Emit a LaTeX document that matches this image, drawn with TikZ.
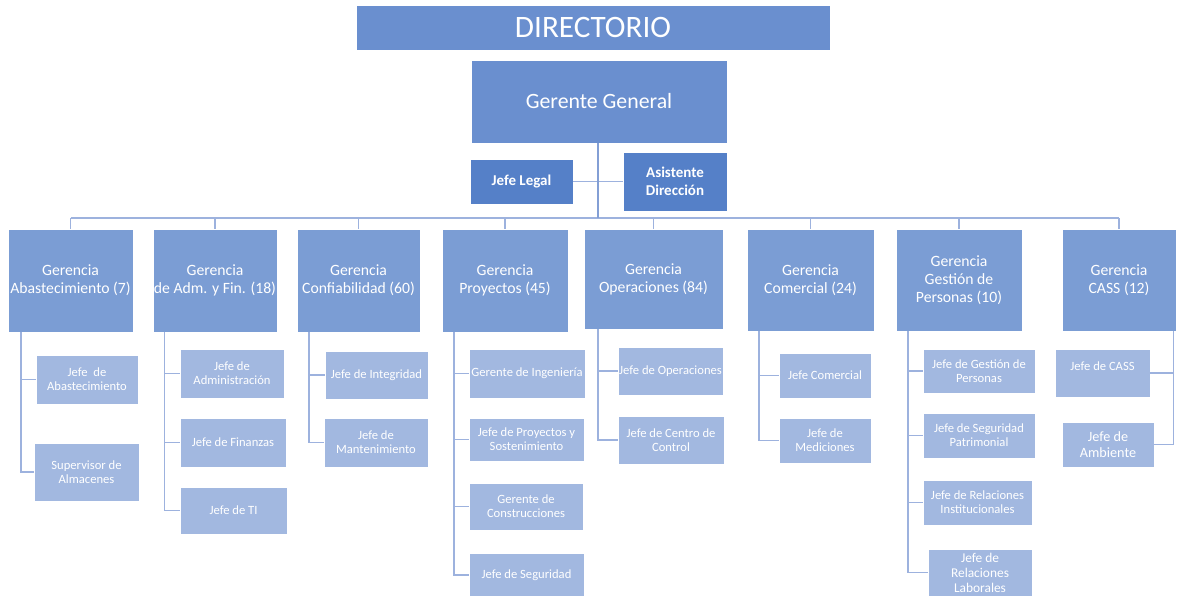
\documentclass[tikz,border=0pt]{standalone}
\usepackage{fontspec}
\setmainfont{Carlito}
\usepackage{tikz}

\definecolor{dircol}{HTML}{6A8FCF}
\definecolor{asecol}{HTML}{5580C8}
\definecolor{gercol}{HTML}{7B9DD4}
\definecolor{jefcol}{HTML}{A2B8E0}
\definecolor{lincol}{HTML}{9DB2DE}
\definecolor{mainlin}{HTML}{839FD5}

\begin{document}
\begin{tikzpicture}[x=1pt,y=-1pt,
  box/.style={draw=white,line width=0.8pt,text=white,inner sep=1pt,align=center},
  topbox/.style={box,fill=dircol},
  asebox/.style={box,fill=asecol,font=\bfseries\fontsize{15}{17.7}\selectfont},
  gerbox/.style={box,fill=gercol,font=\fontsize{15.7}{18}\selectfont},
  jefbox/.style={box,fill=jefcol,font=\fontsize{12.6}{14.3}\selectfont},
  link/.style={draw=lincol,line width=1.8pt},
  mainlink/.style={draw=mainlin,line width=2pt}]

\useasboundingbox (0,0) rectangle (1177,596);

% direccion
\node[topbox,minimum width=474,minimum height=45,font=\fontsize{31.2}{36}\selectfont] (dir) at (593,27.5) {DIRECTORIO};
\node[topbox,minimum width=256,minimum height=83,font=\fontsize{21.8}{25}\selectfont] (gg) at (599,101.5) {Gerente General};
\node[asebox,minimum width=103,minimum height=45] (legal) at (521.5,181.5) {Jefe Legal};
\node[asebox,minimum width=104,minimum height=59] (asist) at (675,181.5) {Asistente\\Direcci\'on};

% gerencias
\node[gerbox,minimum width=125,minimum height=103] (gabast) at (70.5,280.5) {Gerencia\\Abastecimiento (7)};
\node[gerbox,minimum width=124,minimum height=103] (gadm) at (215,280.5) {Gerencia\\de Adm. y Fin. (18)};
\node[gerbox,minimum width=123,minimum height=103] (gconf) at (358.5,280.5) {Gerencia\\Confiabilidad (60)};
\node[gerbox,minimum width=126,minimum height=103] (gproy) at (505,280.5) {Gerencia\\Proyectos (45)};
\node[gerbox,minimum width=139,minimum height=100] (gope) at (653.5,279) {Gerencia\\Operaciones (84)};
\node[gerbox,minimum width=127,minimum height=102] (gcom) at (810.5,280) {Gerencia\\Comercial (24)};
\node[gerbox,minimum width=126,minimum height=102] (gpers) at (959,280) {Gerencia\\Gesti\'on de\\Personas (10)};
\node[gerbox,minimum width=114,minimum height=102] (gcass) at (1119,280) {Gerencia\\CASS (12)};

% jefaturas
\node[jefbox,minimum width=102,minimum height=49] (jabast) at (87,379.5) {Jefe \ de\\Abastecimiento};
\node[jefbox,minimum width=105,minimum height=58] (jalm) at (86.5,472) {Supervisor de\\Almacenes};
\node[jefbox,minimum width=104,minimum height=49] (jadm) at (232,373.5) {Jefe de\\Administraci\'on};
\node[jefbox,minimum width=106,minimum height=49] (jfin) at (233,442.5) {Jefe de Finanzas};
\node[jefbox,minimum width=107,minimum height=47] (jti) at (233.5,510.5) {Jefe de TI};
\node[jefbox,minimum width=103,minimum height=48] (jinteg) at (376.5,375) {Jefe de Integridad};
\node[jefbox,minimum width=104,minimum height=49] (jmant) at (376,442.5) {Jefe de\\Mantenimiento};
\node[jefbox,minimum width=116,minimum height=49] (ging) at (527,373.5) {Gerente de Ingenier\'ia};
\node[jefbox,minimum width=115,minimum height=43] (jproy) at (526.5,439.5) {Jefe de Proyectos y\\Sostenimiento};
\node[jefbox,minimum width=114,minimum height=47] (gcons) at (526,506.5) {Gerente de\\Construcciones};
\node[jefbox,minimum width=115,minimum height=44] (jseg) at (526.5,575) {Jefe de Seguridad};
\node[jefbox,minimum width=105,minimum height=48] (jope) at (670.5,371) {Jefe de Operaciones};
\node[jefbox,minimum width=106,minimum height=48] (jcc) at (671,440) {Jefe de Centro de\\Control};
\node[jefbox,minimum width=92,minimum height=45] (jcom) at (825,375.5) {Jefe Comercial};
\node[jefbox,minimum width=92,minimum height=45] (jmed) at (825,440.5) {Jefe de\\Mediciones};
\node[jefbox,minimum width=112,minimum height=44] (jgp) at (979,371) {Jefe de Gesti\'on de\\Personas};
\node[jefbox,minimum width=112,minimum height=45] (jsp) at (979,435.5) {Jefe de Seguridad\\Patrimonial};
\node[jefbox,minimum width=109,minimum height=45] (jri) at (977.5,502.5) {Jefe de Relaciones\\Institucionales};
\node[jefbox,minimum width=104,minimum height=47,font=\fontsize{13.4}{15}\selectfont] (jrl) at (980,572.5) {Jefe de\\Relaciones\\Laborales};
\node[jefbox,minimum width=95,minimum height=48] (jcass) at (1102.5,373) {Jefe de CASS\\~};
\node[jefbox,minimum width=92,minimum height=45,font=\fontsize{14.2}{15.5}\selectfont] (jamb) at (1108,444.5) {Jefe de\\Ambiente};

% lineas
\coordinate (bus) at (598,218);
\draw[link] (legal) -- (asist);
\draw[link] (gabast.north |- bus) -- (gcass.north |- bus);
\foreach \g in {gabast,gadm,gconf,gproy,gope,gcom,gpers,gcass}
  \draw[link] (\g.north |- bus) -- (\g.north);
\draw[mainlink] ([xshift=-1]gg.south) -- ([xshift=-1]gg.south |- bus);

\foreach \g/\c/\s in {gabast/jabast/13,gabast/jalm/13,gadm/jadm/12,gadm/jfin/12,gadm/jti/12,
  gconf/jinteg/12,gconf/jmant/12,gproy/ging/12,gproy/jproy/12,gproy/gcons/12,gproy/jseg/12,
  gope/jope/14,gope/jcc/14,gcom/jcom/12,gcom/jmed/12,
  gpers/jgp/12,gpers/jsp/12,gpers/jri/12,gpers/jrl/12}
  \draw[link] ([xshift=\s]\g.south west) |- (\c.west);
\draw[link] ([xshift=-3]gcass.south east) |- (jcass.east);
\draw[link] ([xshift=-3]gcass.south east) |- (jamb.east);

\end{tikzpicture}
\end{document}
